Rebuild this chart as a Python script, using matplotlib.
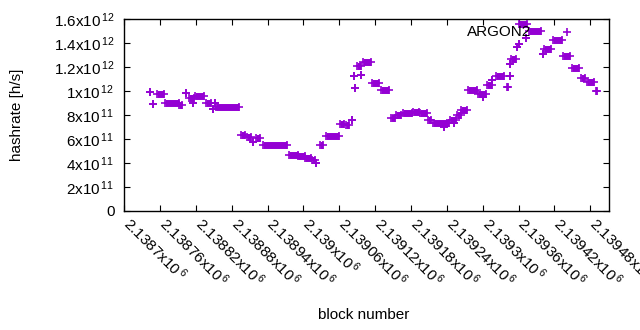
import numpy as np
import matplotlib
matplotlib.use('Agg')
import matplotlib.pyplot as plt
import matplotlib.transforms as mtransforms

plt.rcParams['font.family'] = 'Liberation Sans'
plt.rcParams['mathtext.fontset'] = 'custom'
plt.rcParams['mathtext.rm'] = 'Liberation Sans'
plt.rcParams['mathtext.default'] = 'regular'

# Runs of equal hashrate: first block, last block, hashrate [h/s]
run_start = [2138743, 2138748, 2138755, 2138768, 2138791, 2138803, 2138809, 2138815,
             2138818, 2138837, 2138848, 2138852, 2138853, 2138895, 2138905, 2138915,
             2138920, 2138932, 2138975, 2138990, 2139002, 2139014, 2139021, 2139027,
             2139037, 2139061, 2139071, 2139081, 2139085, 2139086, 2139089, 2139097,
             2139099, 2139114, 2139129, 2139146, 2139155, 2139166, 2139184, 2139195,
             2139209, 2139216, 2139236, 2139245, 2139252, 2139257, 2139263, 2139276,
             2139293, 2139300, 2139307, 2139315, 2139323, 2139340, 2139345, 2139346,
             2139348, 2139358, 2139360, 2139361, 2139373, 2139378, 2139401, 2139403,
             2139417, 2139434, 2139450, 2139465, 2139475, 2139489]
run_end = [2138743, 2138748, 2138766, 2138791, 2138796, 2138803, 2138817, 2138815,
           2138834, 2138845, 2138848, 2138852, 2138892, 2138902, 2138912, 2138915,
           2138927, 2138972, 2138990, 2139002, 2139012, 2139019, 2139021, 2139033,
           2139059, 2139068, 2139077, 2139081, 2139085, 2139086, 2139096, 2139097,
           2139113, 2139126, 2139143, 2139154, 2139164, 2139182, 2139193, 2139207,
           2139214, 2139243, 2139236, 2139255, 2139252, 2139263, 2139273, 2139290,
           2139305, 2139300, 2139315, 2139315, 2139335, 2139342, 2139345, 2139346,
           2139355, 2139358, 2139360, 2139375, 2139373, 2139398, 2139401, 2139415,
           2139432, 2139447, 2139462, 2139472, 2139487, 2139491]
run_rate = [9.9e11, 8.9e11, 9.75e11, 9.0e11, 8.85e11, 9.85e11, 9.4e11, 9.0e11,
            9.6e11, 9.05e11, 8.5e11, 9.0e11, 8.65e11, 6.35e11, 6.15e11, 5.75e11,
            6.1e11, 5.5e11, 4.7e11, 4.6e11, 4.42e11, 4.25e11, 4.0e11, 5.5e11,
            6.28e11, 7.3e11, 7.15e11, 7.6e11, 11.25e11, 10.25e11, 12.1e11, 11.35e11,
            12.4e11, 10.65e11, 10.1e11, 7.8e11, 8.05e11, 8.2e11, 8.3e11, 8.15e11,
            7.6e11, 7.35e11, 7.0e11, 7.6e11, 7.35e11, 8.0e11, 8.4e11, 10.1e11,
            9.8e11, 9.5e11, 10.5e11, 10.9e11, 11.3e11, 10.35e11, 11.25e11, 12.25e11,
            12.65e11, 13.65e11, 13.9e11, 15.6e11, 14.4e11, 15.0e11, 13.1e11, 13.55e11,
            14.3e11, 12.95e11, 11.95e11, 11.1e11, 10.8e11, 10.0e11]

x_ticks = [2138700 + 60 * k for k in range(14)]
y_ticks = [0, 2e11, 4e11, 6e11, 8e11, 1e12, 1.2e12, 1.4e12, 1.6e12]
y_labels = ['0', '2x10$^{\\,11}$', '4x10$^{\\,11}$', '6x10$^{\\,11}$', '8x10$^{\\,11}$',
            '1x10$^{\\,12}$', '1.2x10$^{\\,12}$', '1.4x10$^{\\,12}$', '1.6x10$^{\\,12}$']

color = '#9400d3'

fig = plt.figure(figsize=(6.4, 3.3), dpi=100)
ax = fig.add_axes([124.3 / 640, 1 - 211 / 330, (609.3 - 124.3) / 640, (211 - 19.3) / 330])

# filled bar for each run, '+' at its ends
ax.hlines(run_rate, run_start, run_end, colors=color, linewidth=5, zorder=2)
ax.plot(run_start, run_rate, '+', color=color, markersize=5.5, markeredgewidth=1.2, zorder=3)
ax.plot(run_end, run_rate, '+', color=color, markersize=5.5, markeredgewidth=1.2, zorder=3)

ax.set_xlim(2138700, 2139512)
ax.set_ylim(0, 1.6e12)

ax.set_xticks(x_ticks)
ax.set_xticklabels(['%gx10$^{\\,6}$' % (t / 1e6) for t in x_ticks],
                   rotation=-45, ha='left', va='top', rotation_mode='anchor')
ax.set_yticks(y_ticks)
ax.set_yticklabels(y_labels)
ax.tick_params(direction='in', length=4, width=0.8, top=True, right=True,
               labelsize=11, colors='black')
ax.tick_params(axis='y', pad=7)
ax.tick_params(axis='x', pad=5)
for s in ax.spines.values():
    s.set_linewidth(1.0)

# nudge rotated labels so they start at the tick like gnuplot does
shift = mtransforms.ScaledTranslation(9 / 100, 4 / 100, fig.dpi_scale_trans)
for lbl in ax.get_xticklabels():
    lbl.set_transform(lbl.get_transform() + shift)

# key
ax.text(0.8386, 0.934, 'ARGON2', transform=ax.transAxes, ha='right', va='center', fontsize=11)
ax.plot([0.913], [0.934], '+', transform=ax.transAxes, color=color,
        markersize=5.5, markeredgewidth=1.2, clip_on=False)

fig.text(17 / 640, 1 - 115 / 330, 'hashrate [h/s]', rotation=90, ha='center', va='center', fontsize=11)
fig.text(364 / 640, 1 - 315 / 330, 'block number', ha='center', va='center', fontsize=11)

fig.savefig('out.png', dpi=100)
